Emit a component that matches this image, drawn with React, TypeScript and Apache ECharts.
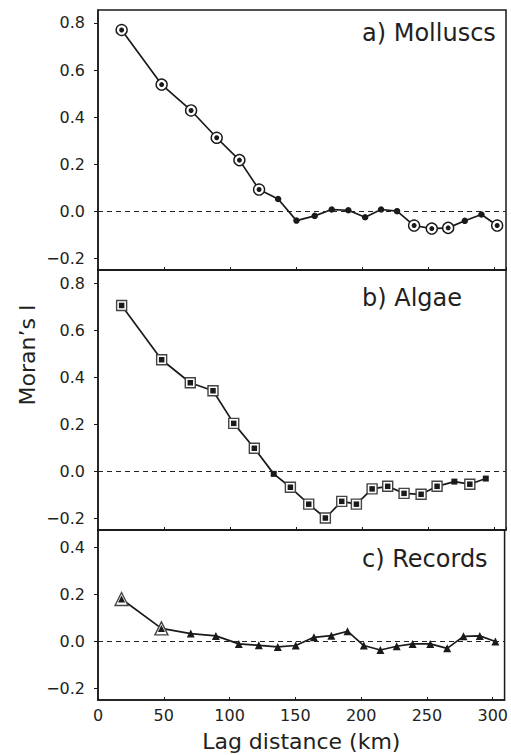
import React, { useEffect, useRef } from 'react';
import * as echarts from 'echarts';

// Panel a) Molluscs
const xA = [17.9, 48.2, 70.5, 89.9, 107.1, 122, 136.4, 150.3, 164.1, 177, 189.6, 202.3, 214.4, 226.5, 239.4, 252.8, 265.2, 277.8, 290.4, 302.3];
const yA = [0.77, 0.538, 0.428, 0.312, 0.217, 0.092, 0.052, -0.04, -0.02, 0.007, 0.004, -0.026, 0.007, 0.0, -0.061, -0.074, -0.071, -0.041, -0.014, -0.061];
const openA = [1, 1, 1, 1, 1, 1, 0, 0, 0, 0, 0, 0, 0, 0, 1, 1, 1, 0, 0, 1];

// Panel b) Algae
const xB = [17.9, 48.2, 69.9, 87.1, 102.8, 118.4, 133.1, 145.7, 159.6, 172.2, 184.6, 195.7, 207.6, 219.4, 231.8, 244.7, 256.8, 269.9, 281.6, 293.7];
const yB = [0.706, 0.475, 0.377, 0.343, 0.204, 0.098, -0.011, -0.068, -0.14, -0.199, -0.128, -0.14, -0.075, -0.064, -0.094, -0.098, -0.064, -0.044, -0.055, -0.031];
const openB = [1, 1, 1, 1, 1, 1, 0, 1, 1, 1, 1, 1, 1, 1, 1, 1, 1, 0, 1, 0];

// Panel c) Records
const xC = [17.9, 48.2, 70.5, 89.6, 107, 122.2, 136.6, 150.3, 164.1, 177.3, 189.6, 202, 214.6, 227, 239.1, 252.5, 265.4, 277.8, 290.2, 302];
const yC = [0.18, 0.055, 0.033, 0.023, -0.011, -0.017, -0.024, -0.018, 0.017, 0.024, 0.043, -0.018, -0.037, -0.021, -0.011, -0.011, -0.03, 0.021, 0.023, -0.001];
const openC = [1, 1, 0, 0, 0, 0, 0, 0, 0, 0, 0, 0, 0, 0, 0, 0, 0, 0, 0, 0];

const ticksAB = [-0.2, 0, 0.2, 0.4, 0.6, 0.8];
const ticksC = [-0.2, 0, 0.2, 0.4];
const panelLabels = ['a) Molluscs', 'b) Algae', 'c) Records'];
const xTitle = 'Lag distance (km)';
const yTitle = 'Moran\u2019s I';

const FONT = 'DejaVu Sans';
const INK = '#1a1a1a';
const TXT = '#231f20';

const fmt = (v: number) => {
  const r = Math.round(v * 10) / 10;
  return r < 0 ? '\u2212' + Math.abs(r).toFixed(1) : r.toFixed(1);
};

export default function App() {
  const ref = useRef<HTMLDivElement>(null);
  useEffect(() => {
    if (!ref.current) return;
    const chart = echarts.init(ref.current, undefined, { renderer: 'svg' });

    const panels = [
      { x: xA, y: yA, open: openA, top: 10, height: 260, min: -0.25, max: 0.855, ticks: ticksAB, sym: 'circle', openSize: 11, innerSize: 5, fillSize: 6.5, openBorder: INK, labelY: 33 },
      { x: xB, y: yB, open: openB, top: 270, height: 260, min: -0.25, max: 0.857, ticks: ticksAB, sym: 'rect', openSize: 10, innerSize: 5.5, fillSize: 6, openBorder: '#444', labelY: 298 },
      { x: xC, y: yC, open: openC, top: 530, height: 170, min: -0.25, max: 0.474, ticks: ticksC, sym: 'triangle', openSize: 13, innerSize: 7, fillSize: 8, openBorder: '#444', labelY: 559 },
    ];

    const grid: any[] = [];
    const xAxis: any[] = [];
    const yAxis: any[] = [];
    const series: any[] = [];
    const graphic: any[] = [];

    panels.forEach((p, i) => {
      grid.push({ left: 98, top: p.top, width: 408, height: p.height, show: true, borderColor: INK, borderWidth: 1.5, backgroundColor: 'transparent' });
      xAxis.push({
        type: 'value', gridIndex: i, min: 0, max: 309, interval: 50,
        axisLine: { show: true, onZero: false, lineStyle: { color: INK, width: 1.5 } },
        axisTick: { show: true, inside: true, length: 3, lineStyle: { color: INK, width: 1 } },
        axisLabel: { show: i === 2, color: TXT, fontFamily: FONT, fontSize: 16, margin: 7 },
        splitLine: { show: false },
        name: i === 2 ? xTitle : '',
        nameLocation: 'middle', nameGap: 30,
        nameTextStyle: { color: TXT, fontFamily: FONT, fontSize: 22 },
      });
      yAxis.push({
        type: 'value', gridIndex: i, min: p.min, max: p.max,
        axisLine: { show: true, onZero: false, lineStyle: { color: INK, width: 1.5 } },
        axisTick: { show: true, inside: false, length: 4, customValues: p.ticks, lineStyle: { color: INK, width: 1 } },
        axisLabel: { show: true, customValues: p.ticks, formatter: (v: number) => fmt(v), color: TXT, fontFamily: FONT, fontSize: 16, margin: 13 },
        splitLine: { show: false },
      });
      const pts = p.x.map((xv, k) => [xv, p.y[k]]);
      series.push({
        type: 'line', xAxisIndex: i, yAxisIndex: i, data: pts, symbol: 'none',
        lineStyle: { color: INK, width: 1.7 }, z: 2,
        markLine: {
          silent: true, symbol: ['none', 'none'], label: { show: false },
          lineStyle: { type: [5, 4], color: '#222', width: 1 },
          data: [{ yAxis: 0 }],
        },
      });
      series.push({
        type: 'scatter', xAxisIndex: i, yAxisIndex: i, z: 3,
        data: pts.filter((_, k) => p.open[k] === 1),
        symbol: p.sym, symbolSize: p.openSize,
        itemStyle: { color: '#ffffff', borderColor: p.openBorder, borderWidth: 1.4, opacity: 1 },
      });
      series.push({
        type: 'scatter', xAxisIndex: i, yAxisIndex: i, z: 4,
        data: pts.map((pt, k) => ({ value: pt, symbolSize: p.open[k] === 1 ? p.innerSize : p.fillSize })),
        symbol: p.sym,
        itemStyle: { color: INK, opacity: 1 },
      });
      graphic.push({
        type: 'text', x: 362, y: p.labelY, z: 10,
        style: { text: panelLabels[i], fontFamily: FONT, fontSize: 24, fill: TXT, align: 'left', verticalAlign: 'middle' },
      });
    });

    graphic.push({
      type: 'text', x: 27, y: 355, rotation: Math.PI / 2, z: 10,
      style: { text: yTitle, fontFamily: FONT, fontSize: 22, fill: TXT, align: 'center', verticalAlign: 'middle' },
    });

    chart.setOption({
      animation: false,
      backgroundColor: '#ffffff',
      grid, xAxis, yAxis, series, graphic,
    });
    return () => chart.dispose();
  }, []);
  return <div ref={ref} style={{ position: 'absolute', left: 0, top: 0, width: 511, height: 755 }} />;
}
